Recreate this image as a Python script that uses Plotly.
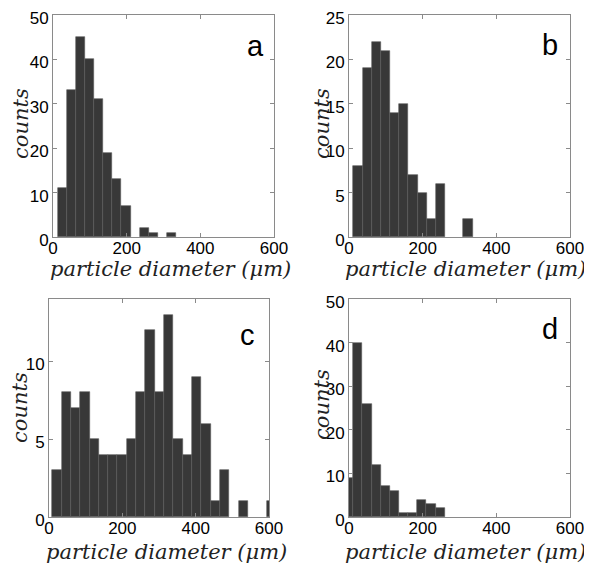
import plotly.graph_objects as go

# bin centres (um) and counts
diam_a = [25.9, 50.5, 75.1, 99.7, 124.3, 148.9, 173.5, 198.1, 222.7, 247.3, 271.9, 296.5, 321.1]
counts_a = [11, 33, 45, 40, 31, 19, 13, 7, 0, 2, 1, 0, 1]

diam_b = [24.3, 49.2, 74.1, 99.0, 123.9, 148.8, 173.7, 198.6, 223.5, 248.4, 273.3, 298.2, 323.1]
counts_b = [8, 19, 22, 21, 14, 15, 7, 5, 2, 6, 0, 0, 2]

diam_c = [21.7, 47.1, 72.5, 97.9, 123.3, 148.7, 174.1, 199.5, 224.9, 250.3, 275.7, 301.1,
          326.5, 351.9, 377.3, 402.7, 428.1, 453.5, 478.9, 504.3, 529.7, 555.1, 580.5, 605.9]
counts_c = [3, 8, 7, 8, 5, 4, 4, 4, 5, 8, 12, 8, 13, 5, 4, 9, 6, 1, 3, 0, 1, 0, 0, 1]

diam_d = [-0.7, 24.1, 48.9, 73.7, 98.5, 123.3, 148.1, 172.9, 197.7, 222.5, 247.3]
counts_d = [9, 40, 26, 12, 7, 6, 1, 1, 4, 3, 2]

x_ticks = [0, 200, 400, 600]
panel_labels = ["a", "b", "c", "d"]
x_title = "particle diameter (μm)"
y_title = "counts"

# page body has an 8px margin, so the figure is drawn 8px in from the corner
PAD = 8
W, H = 592 - PAD, 567 - PAD


def px(x):
    return (x - PAD) / W


def py(y):
    return 1 - (y - PAD) / H


# pixel boxes of the four axes (left, right, top, bottom) in the target picture
boxes = [(53, 274, 15, 237), (349, 570, 15, 237), (49, 269, 299, 517), (349, 570, 299, 517)]
y_ranges = [(0, 50, 10), (0, 25, 5), (0, 14, 5), (0, 50, 10)]
bin_widths = [24.6, 24.9, 25.4, 24.8]
letter_xy = [(255, 46), (550, 45), (247, 335), (550, 329)]
xtitle_xy = [(170, 269), (465, 269), (166, 552), (465, 552)]
ytitle_xy = [(21, 124), (322, 124), (20, 408), (322, 405)]

data = [(diam_a, counts_a), (diam_b, counts_b), (diam_c, counts_c), (diam_d, counts_d)]

serif = dict(family="DejaVu Serif", size=21, color="#222", style="italic")
tickfont = dict(family="Liberation Sans, Arial", size=17, color="black")

fig = go.Figure()
layout = {}
for i, (xs, ys) in enumerate(data):
    n = "" if i == 0 else str(i + 1)
    # no outline on empty bins, so nothing is drawn on the baseline
    edge_w = [0.6 if v > 0 else 0 for v in ys]
    fig.add_trace(go.Bar(
        x=xs, y=ys, width=bin_widths[i],
        marker=dict(color="#383838", line=dict(color="#5a5a5a", width=edge_w)),
        xaxis="x" + n, yaxis="y" + n, showlegend=False,
    ))
    l, r, t, b = boxes[i]
    y0, y1, dy = y_ranges[i]
    axis_common = dict(
        showline=True, linecolor="#8a8a8a", linewidth=1, mirror="allticks",
        ticks="inside", ticklen=4, tickcolor="#8a8a8a", showgrid=False,
        zeroline=False, tickfont=tickfont, automargin=False,
        ticklabeloverflow="allow",
    )
    layout["xaxis" + n] = dict(
        axis_common, domain=[px(l), px(r)], range=[0, 600],
        tickvals=x_ticks, anchor="y" + n, ticklabelstandoff=-4,
    )
    layout["yaxis" + n] = dict(
        axis_common, domain=[py(b), py(t)], range=[y0, y1],
        dtick=dy, anchor="x" + n, ticklabelshift=3,
    )
    # axis titles placed as text so they sit where the original has them
    fig.add_annotation(text=x_title, showarrow=False, xref="paper", yref="paper",
                       x=px(xtitle_xy[i][0]), y=py(xtitle_xy[i][1]),
                       xanchor="center", yanchor="middle", font=serif)
    fig.add_annotation(text=y_title, showarrow=False, xref="paper", yref="paper",
                       x=px(ytitle_xy[i][0]), y=py(ytitle_xy[i][1]), textangle=-90,
                       xanchor="center", yanchor="middle", font=serif)
    fig.add_annotation(
        text=panel_labels[i], showarrow=False, xref="paper", yref="paper",
        x=px(letter_xy[i][0]), y=py(letter_xy[i][1]),
        xanchor="center", yanchor="middle",
        font=dict(family="Liberation Sans, Arial", size=29, color="black"),
    )

fig.update_layout(
    **layout,
    width=W, height=H, bargap=0,
    margin=dict(l=0, r=0, t=0, b=0),
    paper_bgcolor="white", plot_bgcolor="white",
)

fig.write_html("out.html")
